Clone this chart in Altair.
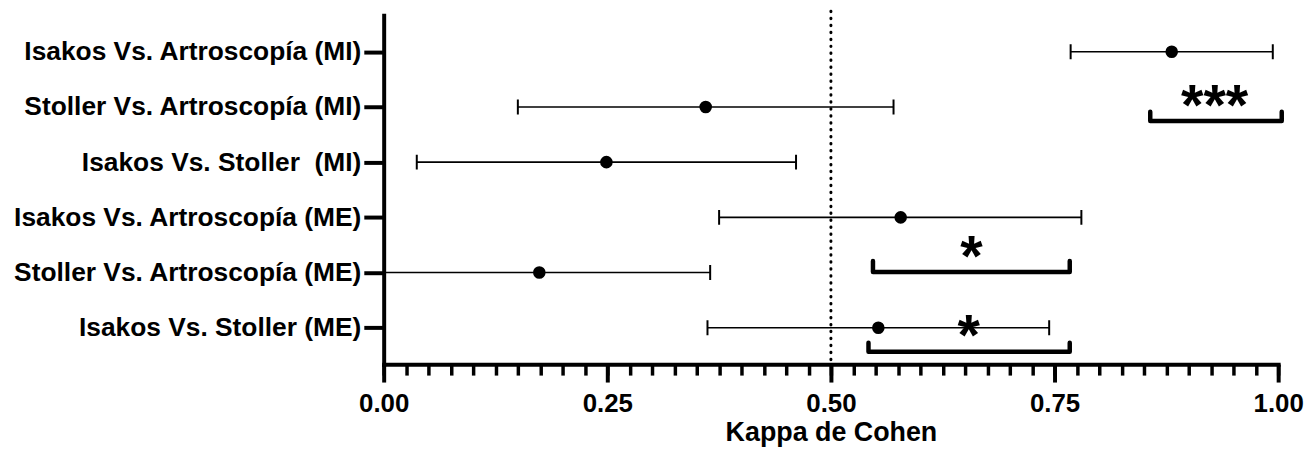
import json
import altair as alt
import pandas as pd

# ---- data ----
comparisons = [
    "Isakos Vs. Artroscopía (MI)",
    "Stoller Vs. Artroscopía (MI)",
    "Isakos Vs. Stoller\u00a0 (MI)",
    "Isakos Vs. Artroscopía (ME)",
    "Stoller Vs. Artroscopía (ME)",
    "Isakos Vs. Stoller (ME)",
]
kappa = [0.881, 0.360, 0.249, 0.578, 0.174, 0.553]
ci_low = [0.768, 0.150, 0.037, 0.375, -0.017, 0.362]
ci_high = [0.994, 0.570, 0.461, 0.780, 0.365, 0.744]

# significance brackets (x extent in kappa units, level in row units)
bracket_x0 = [0.857, 0.547, 0.542]
bracket_x1 = [1.004, 0.767, 0.767]
bracket_level = [1.253, 3.992, 5.436]
bracket_rise = [0.168, 0.20, 0.163]
star_text = ["***", "*", "*"]
star_x = [0.929, 0.657, 0.654]
star_y = [0.844, 3.569, 5.0]

reference_kappa = [0.5]
major_ticks = [0.0, 0.25, 0.5, 0.75, 1.0]
minor_ticks = [round(i * 0.025, 3) for i in range(41)]

FONT = "Liberation Sans"

# ---- tables ----
df = pd.DataFrame({
    "row": list(range(len(comparisons))),
    "comparison": comparisons,
    "kappa": kappa,
    "low": ci_low,
    "high": ci_high,
})

bpts = []
for i in range(len(bracket_x0)):
    top = bracket_level[i] - bracket_rise[i]
    bpts += [
        {"b": i, "o": 0, "x": bracket_x0[i], "y": top},
        {"b": i, "o": 1, "x": bracket_x0[i], "y": bracket_level[i]},
        {"b": i, "o": 2, "x": bracket_x1[i], "y": bracket_level[i]},
        {"b": i, "o": 3, "x": bracket_x1[i], "y": top},
    ]
bdf = pd.DataFrame(bpts)
sdf = pd.DataFrame({"t": star_text, "x": star_x, "y": star_y})
rdf = pd.DataFrame({"x": reference_kappa})

xscale = alt.Scale(domain=[0, 1], nice=False, zero=False)
yscale = alt.Scale(domain=[-0.66, 5.66], reverse=True, nice=False, zero=False)

label_expr = json.dumps(comparisons, ensure_ascii=False) + "[datum.value]"
yaxis = alt.Axis(
    values=list(range(len(comparisons))), labelExpr=label_expr, title=None,
    grid=False, tickSize=20, tickWidth=4, domainWidth=4, domainColor="black",
    tickColor="black", labelColor="black", labelFont=FONT, labelFontSize=26.5,
    labelFontWeight="bold", labelPadding=3, domainCap="square", labelLimit=0,
)

xaxis_major = alt.Axis(
    orient="bottom", values=major_ticks, format=".2f", grid=False,
    tickSize=18, tickWidth=4, domainWidth=4, domainColor="black", tickColor="black",
    labelColor="black", labelFont=FONT, labelFontSize=26, labelFontWeight="bold",
    labelPadding=9, labelFlush=False, title="Kappa de Cohen", titleFont=FONT,
    titleFontSize=27, titleFontWeight="bold", titleColor="black", titlePadding=3,
    domainCap="square",
)
xaxis_minor = alt.Axis(
    orient="bottom", values=minor_ticks, labels=False, domain=False, grid=False,
    tickSize=11, tickWidth=3.5, tickColor="black", title=None,
)

Y = lambda f: alt.Y(f, scale=yscale, axis=yaxis)

ref = alt.Chart(rdf).mark_rule(
    color="black", strokeWidth=3, strokeCap="round", strokeDash=[0.5, 6.5]
).encode(
    x=alt.X("x:Q", scale=xscale, axis=None),
    y=alt.value(-4), y2=alt.value(351),
)

bars = alt.Chart(df).mark_rule(color="black", strokeWidth=1.6, clip=True).encode(
    x=alt.X("low:Q", scale=xscale, axis=xaxis_minor),
    x2="high:Q",
    y=Y("row:Q"),
)

caps = alt.Chart(df).transform_fold(["low", "high"], as_=["end", "v"]).mark_tick(
    color="black", orient="vertical", size=15, thickness=2, clip=True, opacity=1
).encode(
    x=alt.X("v:Q", scale=xscale, axis=None),
    y=Y("row:Q"),
)

points = alt.Chart(df).mark_circle(color="black", size=160, opacity=1).encode(
    x=alt.X("kappa:Q", scale=xscale, axis=xaxis_major),
    y=Y("row:Q"),
)

brackets = alt.Chart(bdf).mark_line(
    color="black", strokeWidth=4.5, strokeCap="round", strokeJoin="round"
).encode(
    x=alt.X("x:Q", scale=xscale, axis=None),
    y=Y("y:Q"),
    detail="b:N",
    order="o:Q",
)

stars = alt.Chart(sdf).mark_text(
    color="black", font=FONT, fontSize=58, fontWeight="bold",
    baseline="alphabetic", align="center", dy=27,
).encode(
    x=alt.X("x:Q", scale=xscale, axis=None),
    y=Y("y:Q"),
    text="t:N",
)

chart = alt.layer(ref, bars, caps, points, brackets, stars).resolve_axis(
    x="independent"
).properties(
    width=900, height=351,
    autosize=alt.AutoSizeParams(type="none"),
    padding={"left": 378, "top": 6, "right": 26, "bottom": 84},
    background="white",
).configure_view(stroke=None)

chart.save("out.html", embed_options={"renderer": "svg", "actions": False})
